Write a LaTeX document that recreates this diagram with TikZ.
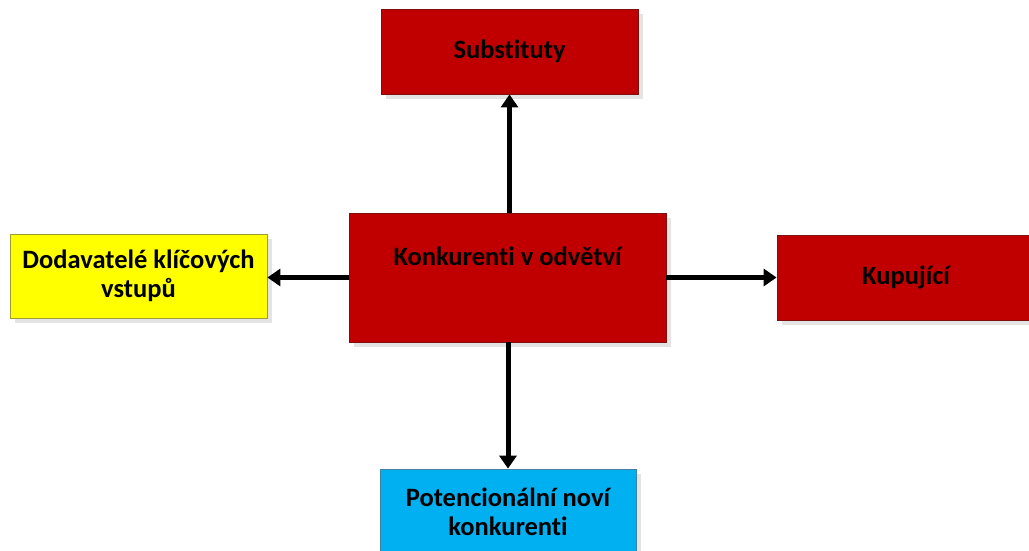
\documentclass[tikz,border=0pt]{standalone}
\usepackage{fontspec}
\setmainfont{Carlito}[Ligatures={NoCommon}]
\usetikzlibrary{shadows,arrows.meta}
\definecolor{boxred}{HTML}{C00000}
\definecolor{redline}{HTML}{7F1010}
\definecolor{boxyellow}{HTML}{FFFF00}
\definecolor{yelline}{HTML}{9C9C30}
\definecolor{boxblue}{HTML}{00B0F0}
\definecolor{blueline}{HTML}{4080A0}
\definecolor{shadowgray}{HTML}{E4E4E4}
\tikzset{
  boxfont/.style={font=\bfseries\fontsize{26.5}{29}\selectfont},
  box/.style={rectangle, line width=0.8pt, inner sep=4pt, align=center,
    boxfont, text=black,
    drop shadow={shadow xshift=5pt, shadow yshift=-5pt, fill=shadowgray, opacity=1}},
  redbox/.style={box, fill=boxred, draw=redline},
  yellowbox/.style={box, fill=boxyellow, draw=yelline},
  bluebox/.style={box, fill=boxblue, draw=blueline},
  arr/.style={line width=5pt, -{Triangle[length=13pt,width=17pt]}}
}
\begin{document}
\begin{tikzpicture}[x=1pt,y=-1pt]
\useasboundingbox (0,0) rectangle (1029,551);
\clip (0,0) rectangle (1029,551);
\fill[white] (0,0) rectangle (1029,551);
\node[redbox, minimum width=257pt, minimum height=85pt] (subst) at (509.5,51.5) {Substituty};
\node[yellowbox, minimum width=257pt, minimum height=84pt] (dod) at (138.5,276) {Dodavatelé klíčových\\vstupů};
\node[redbox, minimum width=317pt, minimum height=129pt] (konk) at (507.5,277.5) {};
\node[boxfont] (konktext) at (507.5,256) {Konkurenti v odvětví};
\node[redbox, minimum width=258pt, minimum height=85pt] (kup) at (906,277.5) {Kupující};
\node[bluebox, minimum width=256pt, minimum height=85pt] (pot) at (508,511.5) {Potencionální noví\\konkurenti};
\draw[arr] (konk.north -| subst.south) -- (subst.south);
\draw[arr] (konk.south -| pot.north) -- (pot.north);
\draw[arr] (konk.west) -- (konk.west -| dod.east);
\draw[arr] (konk.east) -- (konk.east -| kup.west);
\end{tikzpicture}
\end{document}
